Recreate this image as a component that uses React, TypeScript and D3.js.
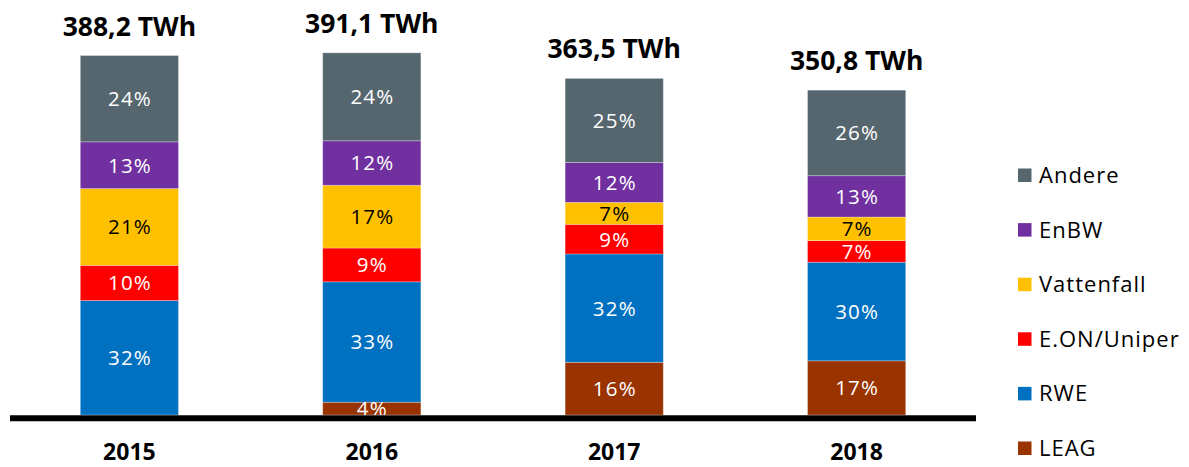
import React from 'react';
import * as d3 from 'd3';

const years = ['2015', '2016', '2017', '2018'];
const totals = [388.2, 391.1, 363.5, 350.8];

// TWh per company (bottom to top)
const leag = [0, 13.8, 56.9, 58.5];
const rwe = [123.6, 130.0, 117.0, 106.5];
const eon = [38.0, 36.5, 32.0, 23.3];
const vattenfall = [82.9, 67.8, 23.7, 25.5];
const enbw = [50.5, 48.0, 43.1, 44.6];
const andere = [93.2, 95.0, 90.8, 92.4];

// percent labels as printed in the segments
const leagPct = [0, 4, 16, 17];
const rwePct = [32, 33, 32, 30];
const eonPct = [10, 9, 9, 7];
const vattenfallPct = [21, 17, 7, 7];
const enbwPct = [13, 12, 12, 13];
const anderePct = [24, 24, 25, 26];

const companies = ['LEAG', 'RWE', 'E.ON/Uniper', 'Vattenfall', 'EnBW', 'Andere'];
const colors = ['#993300', '#0070C0', '#FF0000', '#FFC000', '#7030A0', '#56666F'];
const labelColors = ['#fff', '#fff', '#fff', '#000', '#fff', '#fff'];

const App = () => {
  const width = 1189, height = 467;
  const baseY = 415;
  const font = '"Open Sans", "Noto Sans", sans-serif';

  const series = [leag, rwe, eon, vattenfall, enbw, andere];
  const pcts = [leagPct, rwePct, eonPct, vattenfallPct, enbwPct, anderePct];

  const rows = years.map((y, i) => {
    const row: any = { year: y };
    companies.forEach((c, j) => { row[c] = series[j][i]; });
    return row;
  });
  const stacked = d3.stack().keys(companies)(rows);

  const x = d3.scaleBand().domain(years).range([10, 976]).paddingInner(0.595).paddingOuter(0.29);
  const yScale = d3.scaleLinear().domain([0, 400]).range([baseY, baseY - 370.4]);
  const bw = x.bandwidth();

  const de = d3.formatLocale({ decimal: ',', thousands: '.', grouping: [3], currency: ['', '€'] });
  const fmt = de.format('.1f');

  return (
    <svg width={width} height={height} style={{ position: 'absolute', left: 0, top: 0, background: '#fff' }}>
      {stacked.map((s, j) => (
        <g key={companies[j]}>
          {s.map((d, i) => {
            const y0 = yScale(d[1]);
            const h = yScale(d[0]) - y0;
            if (h <= 0) return null;
            return (
              <rect key={i} x={x(years[i])} y={y0} width={bw} height={h}
                fill={colors[j]} stroke="rgba(255,255,255,0.35)" strokeWidth={0.8} />
            );
          })}
        </g>
      ))}
      {stacked.map((s, j) => (
        <g key={'l' + companies[j]} fontFamily={font} fontSize={20.5} textAnchor="middle" fill={labelColors[j]} letterSpacing={1.2}>
          {s.map((d, i) => {
            if (!pcts[j][i]) return null;
            const cy = (yScale(d[0]) + yScale(d[1])) / 2;
            return (
              <text key={i} x={(x(years[i]) as number) + bw / 2 + 0.6} y={cy} dy="0.36em">{pcts[j][i]}%</text>
            );
          })}
        </g>
      ))}
      <g fontFamily={font} fontSize={26.5} fontWeight="bold" textAnchor="middle" fill="#000">
        {years.map((yr, i) => (
          <text key={yr} x={(x(yr) as number) + bw / 2} y={yScale(totals[i]) - 20}>{fmt(totals[i])} TWh</text>
        ))}
      </g>
      <line x1={10} x2={976} y1={418.3} y2={418.3} stroke="#000" strokeWidth={6} />
      <g fontFamily={font} fontSize={23} fontWeight="bold" textAnchor="middle" fill="#000">
        {years.map(yr => (
          <text key={yr} x={(x(yr) as number) + bw / 2} y={460}>{yr}</text>
        ))}
      </g>
      <g fontFamily={font} fontSize={22} letterSpacing={1} fill="#000">
        {companies.slice().reverse().map((c, k) => {
          const j = companies.length - 1 - k;
          const cy = 175 + k * 54.6;
          return (
            <g key={c}>
              <rect x={1018} y={cy - 6.5} width={13.5} height={13.5} fill={colors[j]} />
              <text x={1039} y={cy} dy="0.36em">{c}</text>
            </g>
          );
        })}
      </g>
    </svg>
  );
};

export default App;
